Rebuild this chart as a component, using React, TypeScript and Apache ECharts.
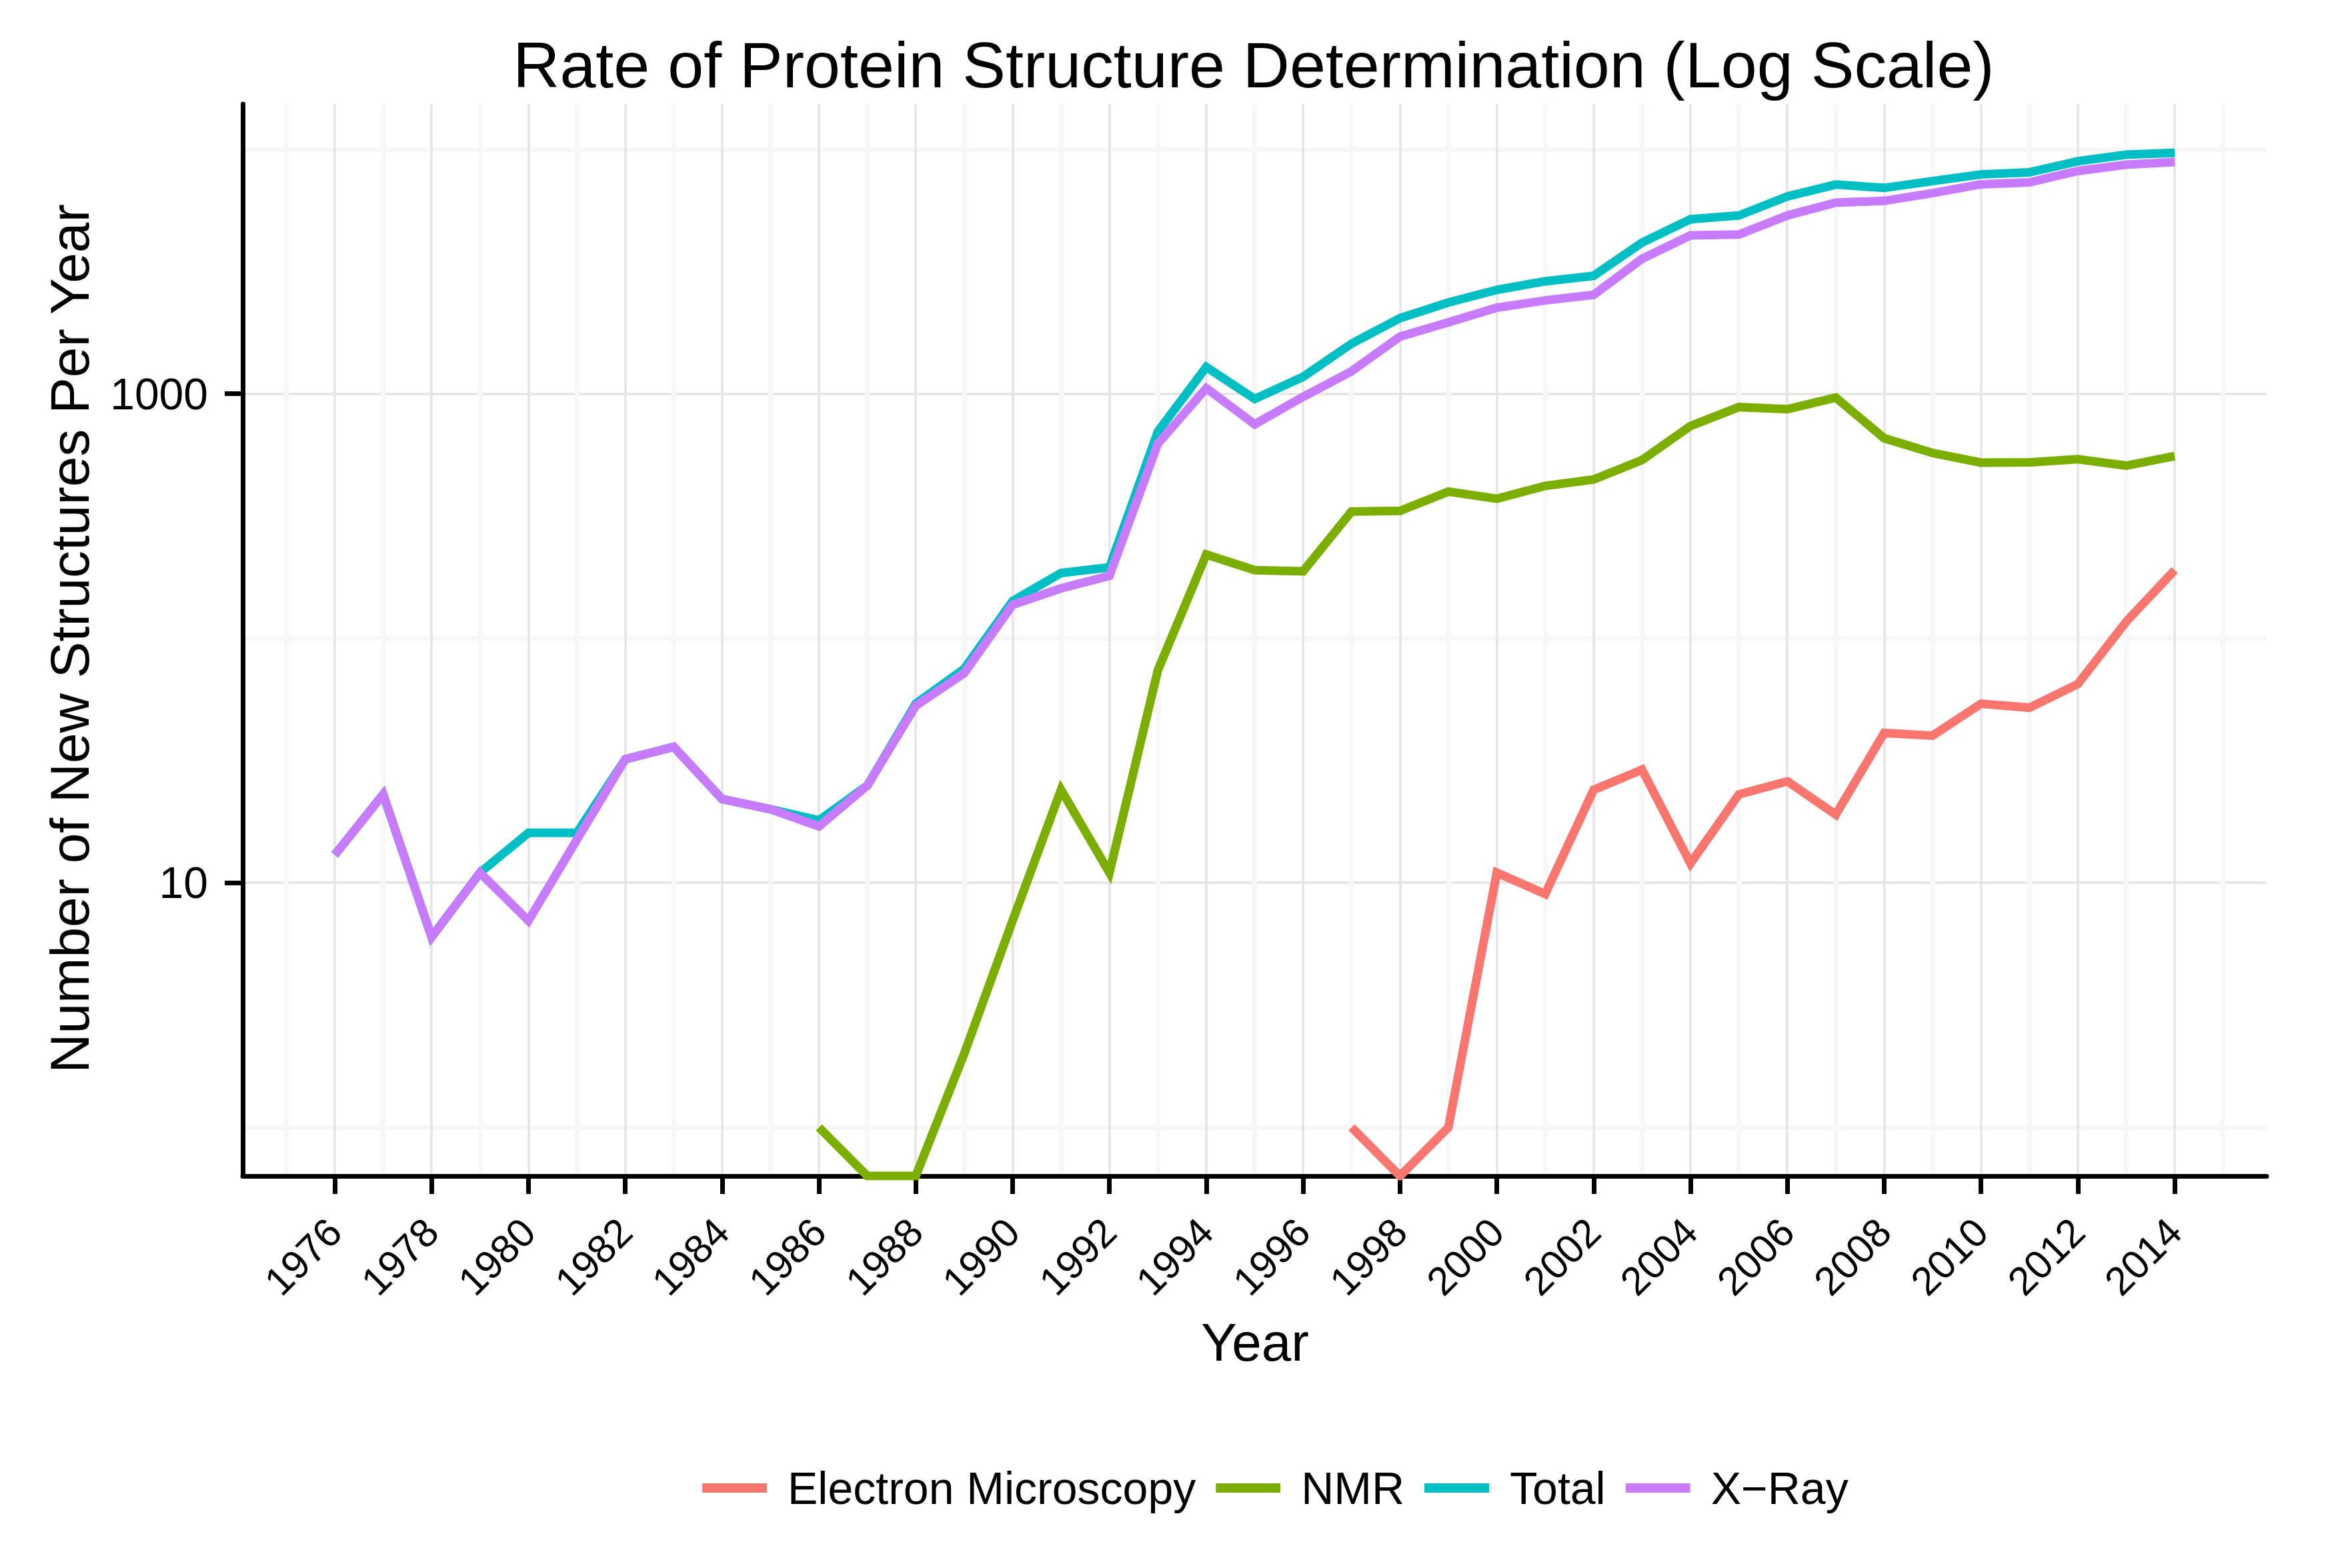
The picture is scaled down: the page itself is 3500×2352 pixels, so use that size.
import React, { useEffect, useRef } from 'react';
import * as echarts from 'echarts';

// ---- Data ----
const years = [
  1976, 1977, 1978, 1979, 1980, 1981, 1982, 1983, 1984, 1985,
  1986, 1987, 1988, 1989, 1990, 1991, 1992, 1993, 1994, 1995,
  1996, 1997, 1998, 1999, 2000, 2001, 2002, 2003, 2004, 2005,
  2006, 2007, 2008, 2009, 2010, 2011, 2012, 2013, 2014,
];

// null = no data for that year; 0 = zero structures (drawn at the panel edge, as log(0) = -Inf)
const electronMicroscopy = [
  null, null, null, null, null, null, null, null, null, null,
  null, null, null, null, null, null, null, null, null, null,
  null, 1, 0, 1, 11, 9, 24, 29, 12, 23,
  26, 19, 41, 40, 54, 52, 65, 117, 190,
];

const nmr = [
  null, null, null, null, null, null, null, null, null, null,
  1, 0, 0, 2, 7, 24, 11, 74, 220, 190,
  188, 330, 332, 398, 372, 420, 446, 536, 738, 882,
  865, 965, 658, 573, 523, 524, 540, 508, 556,
];

const total = [
  13, 23, 6, 11, 16, 16, 32, 36, 22, 20,
  18, 25, 54, 75, 142, 185, 195, 700, 1286, 953,
  1173, 1603, 2037, 2361, 2661, 2884, 3038, 4150, 5170, 5360,
  6410, 7170, 6950, 7410, 7890, 8050, 8930, 9500, 9660,
];

const xRay = [
  13, 23, 6, 11, 7, 15, 32, 36, 22, 20,
  17, 25, 53, 72, 137, 160, 180, 625, 1054, 750,
  972, 1236, 1713, 1958, 2250, 2408, 2539, 3564, 4444, 4480,
  5360, 6050, 6150, 6620, 7190, 7320, 8150, 8650, 8870,
];

const seriesNames = ['Electron Microscopy', 'NMR', 'Total', 'X\u2212Ray'];
const seriesColors = ['#F8766D', '#7CAE00', '#00BFC4', '#C77CFF'];

const xTickYears = [
  1976, 1978, 1980, 1982, 1984, 1986, 1988, 1990, 1992, 1994,
  1996, 1998, 2000, 2002, 2004, 2006, 2008, 2010, 2012, 2014,
];
const xMinorYears = [
  1975, 1977, 1979, 1981, 1983, 1985, 1987, 1989, 1991, 1993,
  1995, 1997, 1999, 2001, 2003, 2005, 2007, 2009, 2011, 2013, 2015,
];
const yTickValues = [10, 1000];
const yTickLabels = ['10', '1000'];
const yMinorValues = [1, 100, 10000];

// Axis ranges (ggplot's 5% expansion around the data range)
const X_MIN = 1974.1;
const X_MAX = 2015.9;
const Y_MIN = Math.pow(10, -0.199);
const Y_MAX = Math.pow(10, 4.185);

const FONT = '"Liberation Sans", Arial, Helvetica, sans-serif';

function toPairs(values: (number | null)[]) {
  const out: [number, number][] = [];
  values.forEach((v, i) => {
    if (v === null) return;
    out.push([years[i], v === 0 ? Y_MIN : v]);
  });
  return out;
}

const seriesValues = [electronMicroscopy, nmr, total, xRay];

const option: any = {
  animation: false,
  backgroundColor: '#ffffff',
  grid: { left: 364, right: 101, top: 156, bottom: 588, containLabel: false },
  xAxis: [
    {
      type: 'value',
      position: 'top',
      min: X_MIN,
      max: X_MAX,
      axisLine: { show: false },
      axisTick: { show: false, customValues: xMinorYears },
      axisLabel: { show: false, customValues: xMinorYears },
      splitLine: { show: true, lineStyle: { color: '#F7F7F7', width: 7 } },
    },
    {
      type: 'value',
      position: 'bottom',
      min: X_MIN,
      max: X_MAX,
      axisLine: { show: true, onZero: false, lineStyle: { color: '#000000', width: 7 } },
      axisTick: {
        show: true,
        inside: false,
        length: 27,
        customValues: xTickYears,
        lineStyle: { color: '#000000', width: 7 },
      },
      axisLabel: {
        show: true,
        customValues: xTickYears,
        rotate: 45,
        margin: 74,
        fontSize: 60,
        fontFamily: FONT,
        color: '#000000',
        formatter: (v: number) => String(Math.round(v)),
      },
      splitLine: { show: true, lineStyle: { color: '#E4E4E4', width: 3.5 } },
    },
  ],
  yAxis: [
    {
      type: 'log',
      logBase: 10,
      position: 'right',
      min: Y_MIN,
      max: Y_MAX,
      axisLine: { show: false },
      axisTick: { show: false, customValues: yMinorValues },
      axisLabel: { show: false, customValues: yMinorValues },
      splitLine: { show: true, lineStyle: { color: '#F7F7F7', width: 7 } },
    },
    {
      type: 'log',
      logBase: 10,
      position: 'left',
      min: Y_MIN,
      max: Y_MAX,
      axisLine: { show: true, onZero: false, lineStyle: { color: '#000000', width: 7 } },
      axisTick: {
        show: true,
        inside: false,
        length: 27,
        customValues: yTickValues,
        lineStyle: { color: '#000000', width: 7 },
      },
      axisLabel: {
        show: true,
        customValues: yTickValues,
        margin: 52,
        fontSize: 66,
        fontFamily: FONT,
        color: '#000000',
        formatter: (v: number) => {
          const idx = yTickValues.findIndex((t) => Math.abs(Math.log10(t) - Math.log10(v)) < 1e-6);
          return idx >= 0 ? yTickLabels[idx] : '';
        },
      },
      splitLine: { show: true, lineStyle: { color: '#E4E4E4', width: 3.5 } },
    },
  ],
  legend: {
    show: true,
    selectedMode: false,
    orient: 'horizontal',
    left: 1048,
    top: 2193,
    icon: 'rect',
    itemWidth: 97,
    itemHeight: 14,
    itemGap: 30,
    data: seriesNames,
    textStyle: {
      fontSize: 68,
      fontFamily: FONT,
      color: '#000000',
      padding: [0, 0, 0, 26],
    },
  },
  graphic: [
    {
      type: 'text',
      x: 1880,
      y: 97,
      style: {
        text: 'Rate of Protein Structure Determination (Log Scale)',
        fontSize: 97,
        fontFamily: FONT,
        fill: '#000000',
        align: 'center',
        verticalAlign: 'middle',
      },
    },
    {
      type: 'text',
      x: 104,
      y: 958,
      rotation: Math.PI / 2,
      style: {
        text: 'Number of New Structures Per Year',
        fontSize: 82,
        fontFamily: FONT,
        fill: '#000000',
        align: 'center',
        verticalAlign: 'middle',
      },
    },
    {
      type: 'text',
      x: 1882,
      y: 2013,
      style: {
        text: 'Year',
        fontSize: 80,
        fontFamily: FONT,
        fill: '#000000',
        align: 'center',
        verticalAlign: 'middle',
      },
    },
  ],
  series: seriesNames.map((name, i) => ({
    name,
    type: 'line',
    xAxisIndex: 1,
    yAxisIndex: 1,
    data: toPairs(seriesValues[i]),
    symbol: 'none',
    showSymbol: false,
    clip: true,
    itemStyle: { color: seriesColors[i] },
    lineStyle: { color: seriesColors[i], width: 13, join: 'miter', cap: 'butt' },
    emphasis: { disabled: true },
  })),
};

export default function App() {
  const ref = useRef<HTMLDivElement>(null);
  useEffect(() => {
    if (!ref.current) return;
    const chart = echarts.init(ref.current, null, { renderer: 'svg' });
    chart.setOption(option);
    return () => {
      chart.dispose();
    };
  }, []);
  return (
    <div
      ref={ref}
      style={{ position: 'absolute', left: 0, top: 0, width: 3500, height: 2352, background: '#ffffff' }}
    />
  );
}
